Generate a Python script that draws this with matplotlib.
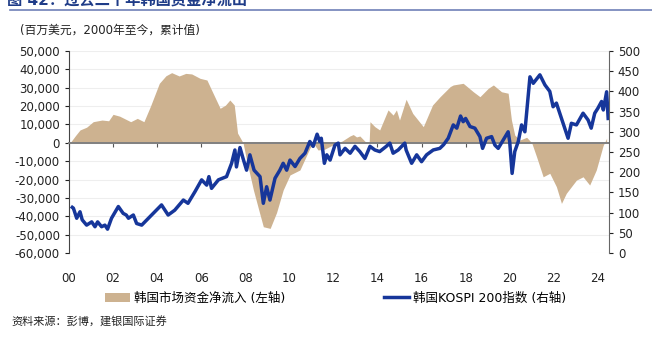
import matplotlib.pyplot as plt
from matplotlib.lines import Line2D
from matplotlib.ticker import FuncFormatter

plt.rcParams['font.family'] = ['DejaVu Sans', 'Noto Sans CJK SC']

# cumulative net flows (USD mn), left axis
flow_years = [2000.0, 2000.1, 2000.3, 2000.5, 2000.8, 2001.1, 2001.5, 2001.8, 2002.0, 2002.3,
              2002.8, 2003.1, 2003.4, 2003.7, 2004.1, 2004.4, 2004.66, 2005.0, 2005.3, 2005.57,
              2005.95, 2006.26, 2006.5, 2006.86, 2007.1, 2007.3, 2007.5, 2007.65, 2007.9, 2008.06,
              2008.37, 2008.6, 2008.82, 2009.13, 2009.42, 2009.72, 2010.03, 2010.48, 2010.93, 2011.08,
              2011.3, 2011.6, 2012.0, 2012.4, 2012.75, 2012.9, 2013.05, 2013.2, 2013.5, 2013.62,
              2013.66, 2013.88, 2014.1, 2014.48, 2014.71, 2014.86, 2015.0, 2015.3, 2015.6, 2016.08,
              2016.5, 2016.84, 2017.3, 2017.44, 2017.89, 2018.35, 2018.65, 2019.03, 2019.26, 2019.63,
              2019.93, 2020.08, 2020.23, 2020.46, 2020.77, 2021.0, 2021.22, 2021.52, 2021.82, 2022.12,
              2022.35, 2022.57, 2023.03, 2023.33, 2023.63, 2023.93, 2024.24, 2024.4]
flow_vals = [0, 800, 4000, 7000, 8500, 11500, 12400, 12000, 15500, 14500,
             11500, 13300, 11500, 20000, 32400, 36500, 38200, 36400, 37800, 37500,
             35100, 34200, 28000, 18800, 20500, 23300, 20600, 5300, 0, -9400,
             -25700, -36000, -45700, -46600, -38000, -25700, -17500, -14800, -3000, 0,
             -3900, -3500, -1000, 1000, 3700, 4500, 3200, 3700, 0, -500,
             11500, 8800, 7000, 17900, 15100, 17900, 12400, 23700, 16000, 8800,
             20600, 25100, 30600, 31500, 32400, 27800, 25100, 29700, 31500, 27800,
             27000, 12400, 4200, 1500, 3000, 0, -7600, -18500, -16600, -23900,
             -33000, -27500, -20300, -18500, -23000, -14800, -1500, 2500]

# KOSPI 200 index, right axis
kospi_years = [2000.15, 2000.2, 2000.35, 2000.5, 2000.6, 2000.8, 2001.03, 2001.18, 2001.3, 2001.48,
               2001.63, 2001.75, 2001.93, 2002.24, 2002.46, 2002.6, 2002.7, 2002.92, 2003.07, 2003.3,
               2003.75, 2004.2, 2004.5, 2004.8, 2005.19, 2005.4, 2005.72, 2006.02, 2006.25, 2006.35,
               2006.47, 2006.78, 2007.15, 2007.38, 2007.53, 2007.6, 2007.76, 2007.9, 2008.06, 2008.21,
               2008.4, 2008.67, 2008.82, 2008.97, 2009.12, 2009.35, 2009.57, 2009.72, 2009.88, 2010.03,
               2010.26, 2010.48, 2010.71, 2010.93, 2011.08, 2011.26, 2011.38, 2011.45, 2011.59, 2011.7,
               2011.85, 2012.07, 2012.22, 2012.3, 2012.53, 2012.76, 2012.98, 2013.2, 2013.43, 2013.66,
               2013.88, 2014.1, 2014.4, 2014.56, 2014.71, 2014.94, 2015.24, 2015.3, 2015.55, 2015.78,
               2016.0, 2016.23, 2016.53, 2016.83, 2017.0, 2017.21, 2017.44, 2017.6, 2017.77, 2017.89,
               2018.0, 2018.2, 2018.42, 2018.65, 2018.77, 2018.95, 2019.18, 2019.33, 2019.48, 2019.71,
               2019.93, 2020.0, 2020.11, 2020.23, 2020.39, 2020.54, 2020.69, 2020.84, 2020.92, 2021.07,
               2021.37, 2021.6, 2021.82, 2021.97, 2022.12, 2022.35, 2022.5, 2022.65, 2022.8, 2023.03,
               2023.33, 2023.56, 2023.7, 2023.86, 2024.0, 2024.17, 2024.25, 2024.4, 2024.47]
kospi_vals = [113, 111, 86, 102, 82, 69, 77, 65, 77, 65,
              69, 59, 86, 115, 98, 94, 86, 94, 73, 69,
              94, 119, 94, 106, 131, 123, 152, 181, 168, 189,
              160, 181, 189, 222, 255, 213, 261, 234, 205, 243,
              205, 189, 123, 164, 131, 185, 205, 222, 205, 230,
              214, 234, 247, 276, 264, 294, 276, 284, 222, 243,
              230, 267, 272, 243, 259, 247, 264, 251, 234, 264,
              255, 251, 264, 272, 247, 255, 272, 255, 222, 243,
              226, 243, 255, 259, 268, 284, 317, 309, 339, 325,
              333, 313, 309, 288, 259, 284, 288, 267, 259, 280,
              300, 276, 197, 251, 276, 317, 300, 387, 436, 420,
              441, 416, 400, 362, 371, 333, 309, 284, 321, 317,
              346, 329, 309, 346, 358, 375, 354, 399, 333]

year_ticks = list(range(2000, 2025, 2))
year_labels = ['%02d' % (y % 100) for y in year_ticks]

tan = '#CDB290'
navy = '#16369A'

fig = plt.figure(figsize=(6.52, 3.45), dpi=100)
ax = fig.add_axes([0.1058, 0.2667, 0.828, 0.5855])
ax2 = ax.twinx()

ax.fill_between(flow_years, flow_vals, 0, color=tan, lw=0, label='韩国市场资金净流入 (左轴)')
ax2.plot(kospi_years, kospi_vals, color=navy, lw=2.5, label='韩国KOSPI 200指数 (右轴)')

ax.set_xlim(2000, 2024.5)
ax.set_ylim(-60000, 50000)
ax.set_yticks(range(-60000, 50001, 10000))
ax.yaxis.set_major_formatter(FuncFormatter(lambda v, p: '{:,.0f}'.format(v)))
ax.grid(axis='y', color='#eeeeee', lw=0.8)
ax.set_axisbelow(True)
ax2.set_ylim(0, 500)
ax2.set_yticks(range(0, 501, 50))

# x axis drawn on the zero line, labels at the bottom
ax.spines['bottom'].set_position(('data', 0))
ax.spines['bottom'].set_color('#808080')
ax.spines['bottom'].set_linewidth(1.4)
ax.set_xticks(year_ticks)
ax.tick_params(axis='x', direction='out', length=3, color='#555555', labelbottom=False)
sec = ax.secondary_xaxis('bottom')
sec.set_xticks(year_ticks)
sec.set_xticklabels(year_labels)
sec.spines['bottom'].set_visible(False)
sec.tick_params(length=0, labelsize=8.5, pad=14, colors='#222222')

for a in (ax, ax2):
    a.spines['top'].set_visible(False)
ax2.spines['bottom'].set_visible(False)
ax.spines['right'].set_visible(False)
ax.spines['left'].set_color('#444444')
ax2.spines['right'].set_color('#666666')
ax2.spines['left'].set_visible(False)
ax.tick_params(axis='y', direction='out', length=3, labelsize=8.5, colors='#222222')
ax2.tick_params(axis='y', direction='out', length=3, labelsize=8.5, colors='#222222')
ax2.set_zorder(ax.get_zorder() + 1)
ax2.patch.set_visible(False)

# clipped heading at the very top
fig.text(0.01, 1.0, '图 42：过去二十年韩国资金净流出', fontsize=11, fontweight='bold',
         color='#1F3C88', va='center', ha='left')
fig.add_artist(Line2D([0.015, 1.0], [1 - 10 / 345, 1 - 10 / 345], transform=fig.transFigure,
                      color='#6F80B8', lw=1.2))

fig.text(0.03, 1 - 30 / 345, '(百万美元，2000年至今，累计值)', fontsize=8.5, va='center', color='#222222')

h1, l1 = ax.get_legend_handles_labels()
h2, l2 = ax2.get_legend_handles_labels()
fig.legend(h1 + h2, l1 + l2, loc='center', bbox_to_anchor=(0.515, 1 - 298 / 345), ncol=2,
           frameon=False, fontsize=9, columnspacing=7.9, handlelength=2.0, handletextpad=0.3)

fig.text(0.018, 1 - 322 / 345, '资料来源：彭博，建银国际证券', fontsize=8, style='italic',
         va='center', color='#222222')

fig.savefig('out.png', dpi=100)
